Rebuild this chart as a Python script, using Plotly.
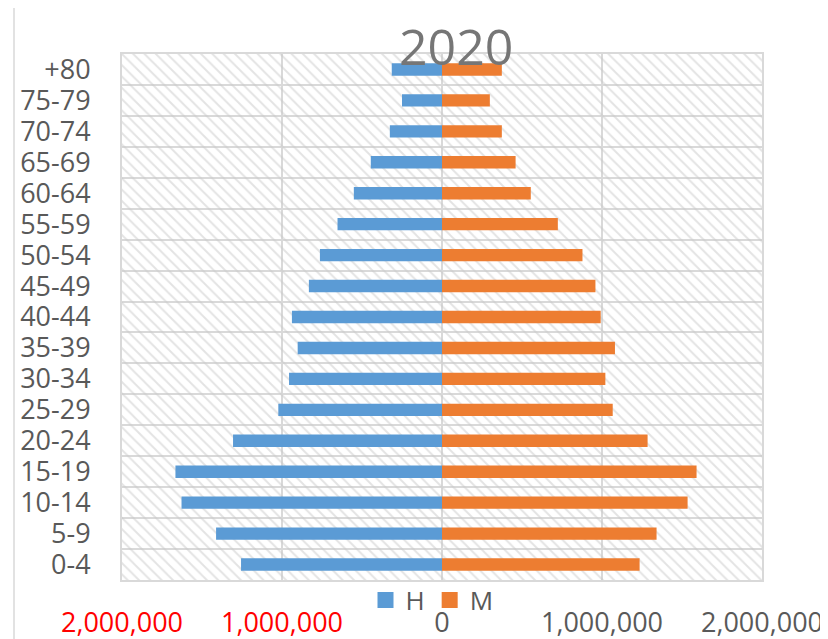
import plotly.graph_objects as go

categories = ["0-4", "5-9", "10-14", "15-19", "20-24", "25-29", "30-34", "35-39",
              "40-44", "45-49", "50-54", "55-59", "60-64", "65-69", "70-74", "75-79", "+80"]
hombres = [1256000, 1412000, 1628000, 1666000, 1306000, 1023000, 956000, 902000,
           938000, 832000, 763000, 653000, 551000, 445000, 326000, 250000, 314000]
mujeres = [1235000, 1341000, 1535000, 1591000, 1285000, 1067000, 1021000, 1081000,
           992000, 959000, 878000, 724000, 555000, 460000, 374000, 299000, 374000]
x_tickvals = [-2000000, -1000000, 0, 1000000, 2000000]
x_ticktext = ["<span style='color:#ff0000'>2,000,000</span>",
              "<span style='color:#ff0000'>1,000,000</span>",
              "0", "1,000,000", "2,000,000"]
title_text = "2020"

XMIN, XMAX = x_tickvals[0], x_tickvals[-1]

OFF = 8  # default page margin of the html body
W, H = 828, 639
# plot area in page pixels
L, R, T, B = 122, 762, 54, 580
pw, ph = R - L, B - T

fig = go.Figure()

# hatched plot-area background
fig.add_trace(go.Bar(
    y=categories, x=[XMAX - XMIN] * len(categories), base=XMIN,
    orientation="h", width=1.0,
    marker=dict(color="rgba(0,0,0,0)", line=dict(width=0),
                pattern=dict(shape="\\", fgcolor="#c8c8c8", bgcolor="rgba(0,0,0,0)",
                             size=8, solidity=0.24, fillmode="overlay")),
    showlegend=False, hoverinfo="skip"))

fig.add_trace(go.Bar(
    y=categories, x=[-v for v in hombres], name="H", orientation="h", width=0.4,
    marker=dict(color="#5B9BD5", line=dict(width=0)), showlegend=False,
    customdata=hombres, hovertemplate="%{y}: %{customdata:,}<extra>H</extra>"))
fig.add_trace(go.Bar(
    y=categories, x=mujeres, name="M", orientation="h", width=0.4,
    marker=dict(color="#ED7D31", line=dict(width=0)), showlegend=False))

# legend entries with larger square keys
for nm, col in (("H", "#5B9BD5"), ("M", "#ED7D31")):
    fig.add_trace(go.Scatter(x=[None], y=[None], mode="markers", name=nm,
                             marker=dict(symbol="square", size=16, color=col),
                             hoverinfo="skip"))

grid = "#d9d9d9"
fig.update_layout(
    width=W, height=H,
    margin=dict(l=L - OFF, r=W - (R - OFF), t=T - OFF, b=H - (B - OFF), pad=0, autoexpand=False),
    barmode="overlay",
    paper_bgcolor="white", plot_bgcolor="white",
    font=dict(family="Open Sans", color="#595959"),
    showlegend=True,
    legend=dict(orientation="h", x=(432 - L) / pw, xanchor="center",
                y=-(600 - B) / ph, yanchor="middle",
                font=dict(size=26, color="#595959"), itemwidth=30,
                bgcolor="rgba(0,0,0,0)", traceorder="normal"),
    xaxis=dict(range=[XMIN, XMAX], tickmode="array", tickvals=x_tickvals, ticktext=x_ticktext,
               showgrid=True, gridcolor=grid, gridwidth=2, zeroline=False,
               showline=True, linecolor=grid, linewidth=2, mirror=True,
               ticks="", tickfont=dict(size=27, color="#595959"),
               ticklabelstandoff=18, fixedrange=True, automargin=False),
    yaxis=dict(type="category", categoryorder="array", categoryarray=categories,
               tickmode="linear", tick0=0, dtick=1,
               tickson="boundaries", showgrid=True, gridcolor=grid, gridwidth=2,
               showline=True, linecolor=grid, linewidth=2, mirror=True,
               ticks="", tickfont=dict(size=27, color="#595959"),
               ticklabelstandoff=24, fixedrange=True, automargin=False),
    annotations=[dict(text=title_text, xref="paper", yref="paper",
                      x=(456 - L) / pw, y=1 + (T - 46) / ph,
                      xanchor="center", yanchor="middle", showarrow=False,
                      font=dict(size=50, color="#767676", family="Open Sans"))],
    shapes=[dict(type="rect", xref="paper", yref="paper", layer="below",
                 x0=(14 - L) / pw, x1=1 + (845 - R) / pw,
                 y0=-(660 - B) / ph, y1=1 + (T - 7) / ph,
                 line=dict(color=grid, width=1.5), fillcolor="rgba(0,0,0,0)")],
)

fig.write_html("out.html")
